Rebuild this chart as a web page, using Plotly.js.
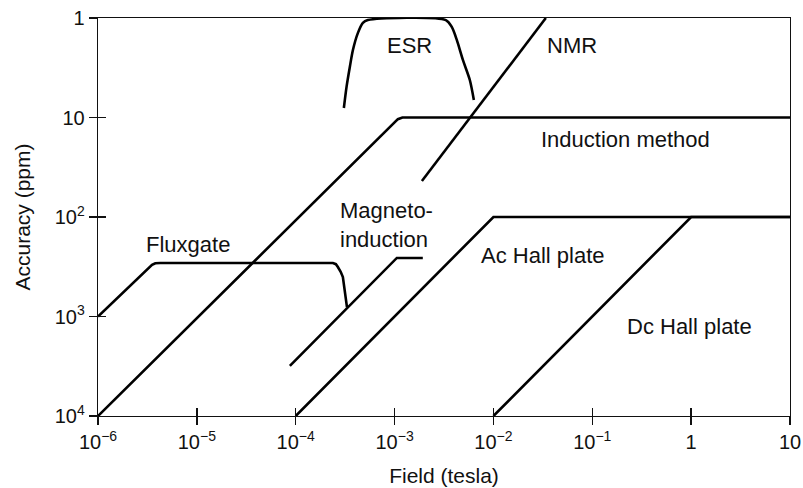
<!DOCTYPE html>
<html>
<head>
<meta charset="utf-8">
<script src="https://cdn.plot.ly/plotly-3.0.1.min.js"></script>
<style>html,body{margin:0;padding:0;background:#fff;}#chart{width:803px;height:488px;}</style>
</head>
<body>
<div id="chart"></div>
<script>
// ---- data (field in tesla, accuracy in ppm) ----
const fluxgateX = [1e-6, 3.52e-6, 3.8e-6, 4.27e-6, 2.38e-4, 2.55e-4, 2.67e-4, 2.85e-4, 3.0e-4, 3.14e-4, 3.30e-4];
const fluxgateY = [1000, 303, 292, 290, 290, 298, 318, 355, 401, 542, 804];

const inductionX = [1e-6, 1.0e-3, 1.08e-3, 1.2e-3, 10];
const inductionY = [1e4, 11.1, 10.4, 10, 10];

const esrX = [3.07e-4, 3.27e-4, 3.53e-4, 3.79e-4, 4.25e-4, 4.78e-4, 5.37e-4, 3.30e-3, 3.79e-3, 4.26e-3, 4.91e-3, 5.77e-3, 6.34e-3];
const esrY = [8.03, 4.90, 3.09, 2.10, 1.42, 1.12, 1.05, 1.05, 1.23, 1.66, 2.64, 4.20, 6.67];

const nmrX = [1.89e-3, 3.39e-2];
const nmrY = [43.5, 1];

const magnetoX = [8.73e-5, 1.054e-3, 1.93e-3];
const magnetoY = [3141, 258, 258];

const acHallX = [1e-4, 1e-2, 10];
const acHallY = [1e4, 100, 100];

const dcHallX = [1e-2, 1, 10];
const dcHallY = [1e4, 100, 100];

const xTickVals = [1e-6, 1e-5, 1e-4, 1e-3, 1e-2, 1e-1, 1, 10];
const xTickText = ["10<sup>−6</sup>", "10<sup>−5</sup>", "10<sup>−4</sup>", "10<sup>−3</sup>", "10<sup>−2</sup>", "10<sup>−1</sup>", "1", "10"];
const yTickVals = [1, 10, 100, 1000, 10000];
const yTickText = ["1", "10", "10<sup>2</sup>", "10<sup>3</sup>", "10<sup>4</sup>"];

const labelText = ["ESR", "NMR", "Induction method", "Magneto-<br>induction", "Fluxgate", "Ac Hall plate", "Dc Hall plate"];
const labelX = [1.40e-3, 6.2e-2, 0.215, 2.67e-4, 8.1e-6, 3.16e-2, 0.968];
const labelY = [1.87, 1.87, 16.8, 120, 190, 245, 1270];
</script>
<script>
const FONT = "Liberation Sans, Arial, Helvetica, sans-serif";
const lineStyle = {color: "#000", width: 2.6};
function tr(x, y, extra) {
  return Object.assign({x: x, y: y, mode: "lines", line: lineStyle, hoverinfo: "skip", showlegend: false}, extra || {});
}
const data = [
  tr(fluxgateX, fluxgateY),
  tr(inductionX, inductionY),
  tr(esrX, esrY, {line: {color: "#000", width: 2.6, shape: "spline", smoothing: 0.8}}),
  tr(nmrX, nmrY),
  tr(magnetoX, magnetoY),
  tr(acHallX, acHallY),
  tr(dcHallX, dcHallY, {xaxis: "x2", yaxis: "y2"})
];

const anchors = ["center", "center", "center", "left", "center", "center", "center"];
const annotations = labelText.map((t, i) => ({
  text: t, x: Math.log10(labelX[i]), y: Math.log10(labelY[i]), xref: "x", yref: "y",
  showarrow: false, xanchor: anchors[i], yanchor: "middle", align: "left",
  font: {family: FONT, size: 22, color: "#111"}
}));

const axisCommon = {
  type: "log", showgrid: false, zeroline: false, ticklen: 8, tickwidth: 1.3, tickcolor: "#111"
};
const layout = {
  width: 803, height: 488,
  margin: {l: 98, r: 13, t: 18, b: 72, pad: 0},
  paper_bgcolor: "#fff", plot_bgcolor: "#fff",
  font: {family: FONT, color: "#111"},
  showlegend: false,
  xaxis: Object.assign({}, axisCommon, {
    range: [-6, 1], tickmode: "array", tickvals: xTickVals, ticktext: xTickText,
    ticks: "outside", showline: true, linecolor: "#111", linewidth: 1.3, mirror: true,
    tickfont: {family: FONT, size: 20, color: "#111"},
    title: {text: "Field (tesla)", font: {family: FONT, size: 21, color: "#111"}, standoff: 16}
  }),
  yaxis: Object.assign({}, axisCommon, {
    range: [4, 0], tickmode: "array", tickvals: yTickVals, ticktext: yTickText,
    ticks: "outside", showline: true, linecolor: "#111", linewidth: 1.3, mirror: true,
    tickfont: {family: FONT, size: 20, color: "#111"},
    title: {text: "Accuracy (ppm)", font: {family: FONT, size: 21, color: "#111"}, standoff: 18}
  }),
  xaxis2: Object.assign({}, axisCommon, {
    overlaying: "x", anchor: "y2", side: "bottom", range: [-6, 1], tickmode: "array", tickvals: xTickVals,
    ticks: "inside", showticklabels: false, showline: false
  }),
  yaxis2: Object.assign({}, axisCommon, {
    overlaying: "y", anchor: "x2", side: "left", range: [4, 0], tickmode: "array", tickvals: yTickVals,
    ticks: "inside", showticklabels: false, showline: false
  }),
  annotations: annotations
};

Plotly.newPlot("chart", data, layout, {staticPlot: true, displayModeBar: false});
</script>
</body>
</html>
